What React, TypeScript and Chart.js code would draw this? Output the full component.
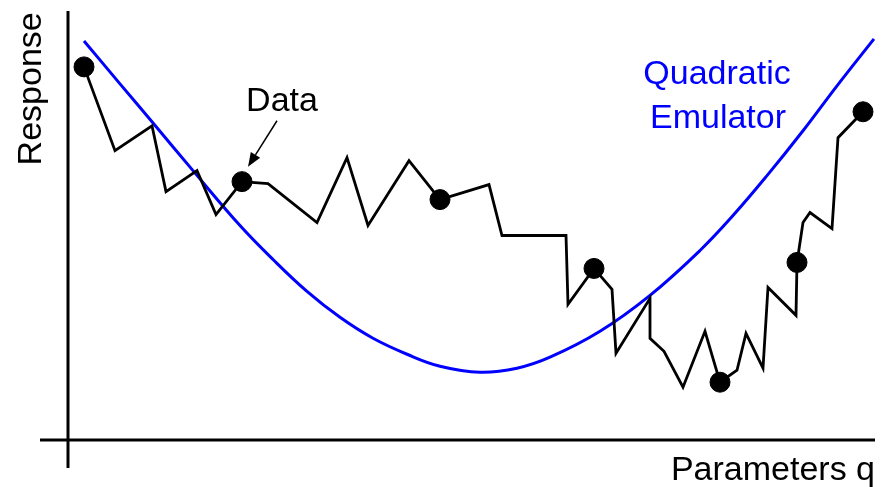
import React, { useEffect, useRef } from "react";
import { Chart, registerables } from "chart.js";

Chart.register(...registerables);

// Observed response (jagged data line): parameter q and response value
const dataQ = [16, 47, 84, 98, 129, 148, 174, 200, 249, 279, 300, 341, 372, 421, 434, 498, 500, 526, 544, 548, 582, 582, 596, 615, 637, 652, 669, 678, 695, 700, 728, 729, 735, 742, 764, 770, 795];
const dataR = [374, 290, 315, 249, 270, 226, 259, 257, 218, 283, 215, 280, 241, 256, 205, 205, 136, 172, 151, 87, 142, 102, 89, 53, 109, 58, 70, 107, 72, 153, 125, 178, 218, 228, 212, 303, 329];
// indices of the sampled points shown as dots
const sampleIdx = [0, 6, 12, 17, 25, 31, 36];

// Quadratic emulator curve
const emuQ = [16, 52, 84, 125, 172, 205, 239, 272, 305, 339, 372, 412, 449, 482, 532, 582, 632, 665, 699, 735, 769, 806];
const emuR = [400, 357, 319, 270, 215, 181, 149, 123, 102, 86, 74, 68, 72, 83, 109, 145, 190, 225, 265, 310, 355, 402];

// Axis extents (data units)
const qMin = -28;
const qMax = 807;
const rMin = -28;
const rMax = 430;

// Text
const yTitle = "Response";
const xTitle = "Parameters q";
const dataLabel = "Data";
const emuLabel1 = "Quadratic";
const emuLabel2 = "Emulator";

const FONT = '34px "Liberation Sans", Arial, Helvetica, sans-serif';

const overlayPlugin = {
  id: "overlay",
  beforeDatasetsDraw(chart: any) {
    const { ctx, chartArea, scales } = chart;
    const x0 = scales.x.getPixelForValue(0);
    const y0 = scales.y.getPixelForValue(0);
    ctx.save();
    ctx.strokeStyle = "#000";
    ctx.lineWidth = 3;
    ctx.beginPath();
    ctx.moveTo(chartArea.left, y0);
    ctx.lineTo(chartArea.right, y0);
    ctx.moveTo(x0, chartArea.top);
    ctx.lineTo(x0, chartArea.bottom);
    ctx.stroke();
    ctx.restore();
  },
  afterDatasetsDraw(chart: any) {
    const { ctx, chartArea, scales } = chart;
    const px = (q: number) => scales.x.getPixelForValue(q);
    const py = (r: number) => scales.y.getPixelForValue(r);
    ctx.save();
    ctx.font = FONT;
    ctx.fillStyle = "#000";

    // y title (rotated)
    ctx.save();
    ctx.translate(px(-36), py(352));
    ctx.rotate(-Math.PI / 2);
    ctx.textAlign = "center";
    ctx.textBaseline = "middle";
    ctx.fillText(yTitle, 0, 0);
    ctx.restore();

    // x title
    ctx.textAlign = "right";
    ctx.textBaseline = "alphabetic";
    ctx.fillText(xTitle, chartArea.right, py(-40));

    // Data label + arrow
    ctx.textAlign = "center";
    ctx.fillText(dataLabel, px(214), py(330));
    const ax0 = px(209), ay0 = py(320);
    const ax1 = px(180), ay1 = py(274);
    const ang = Math.atan2(ay1 - ay0, ax1 - ax0);
    const headLen = 14, headW = 5.5;
    const bx = ax1 - headLen * Math.cos(ang);
    const by = ay1 - headLen * Math.sin(ang);
    ctx.strokeStyle = "#000";
    ctx.lineWidth = 1.5;
    ctx.beginPath();
    ctx.moveTo(ax0, ay0);
    ctx.lineTo(bx, by);
    ctx.stroke();
    ctx.beginPath();
    ctx.moveTo(ax1, ay1);
    ctx.lineTo(bx + headW * Math.sin(ang), by - headW * Math.cos(ang));
    ctx.lineTo(bx - headW * Math.sin(ang), by + headW * Math.cos(ang));
    ctx.closePath();
    ctx.fill();

    // Emulator label
    ctx.fillStyle = "#0000ff";
    ctx.fillText(emuLabel1, px(649), py(357));
    ctx.fillText(emuLabel2, px(650), py(313));
    ctx.restore();
  },
};

export default function App() {
  const ref = useRef<HTMLCanvasElement | null>(null);
  useEffect(() => {
    if (!ref.current) return;
    const chart = new Chart(ref.current, {
      type: "line",
      data: {
        datasets: [
          {
            label: "Quadratic Emulator",
            data: emuQ.map((q, i) => ({ x: q, y: emuR[i] })),
            borderColor: "#0000ff",
            borderWidth: 3,
            pointRadius: 0,
            tension: 0.4,
            fill: false,
            order: 2,
          },
          {
            label: "Data",
            data: dataQ.map((q, i) => ({ x: q, y: dataR[i] })),
            borderColor: "#000",
            borderWidth: 2.8,
            tension: 0,
            borderJoinStyle: "miter",
            pointRadius: (c: any) => (sampleIdx.includes(c.dataIndex) ? 10 : 0),
            pointBackgroundColor: "#000",
            pointBorderColor: "#000",
            pointBorderWidth: 1,
            fill: false,
            order: 1,
          },
        ],
      },
      options: {
        responsive: false,
        animation: false,
        events: [],
        layout: { padding: { left: 40, right: 15, top: 10, bottom: 19 } },
        scales: {
          x: { type: "linear", min: qMin, max: qMax, display: false },
          y: { type: "linear", min: rMin, max: rMax, display: false },
        },
        plugins: {
          legend: { display: false },
          tooltip: { enabled: false },
        },
      } as any,
      plugins: [overlayPlugin],
    } as any);
    return () => chart.destroy();
  }, []);
  return (
    <div style={{ position: "absolute", left: 0, top: 0, width: 890, height: 487, background: "#fff" }}>
      <canvas ref={ref} width={890} height={487} />
    </div>
  );
}
